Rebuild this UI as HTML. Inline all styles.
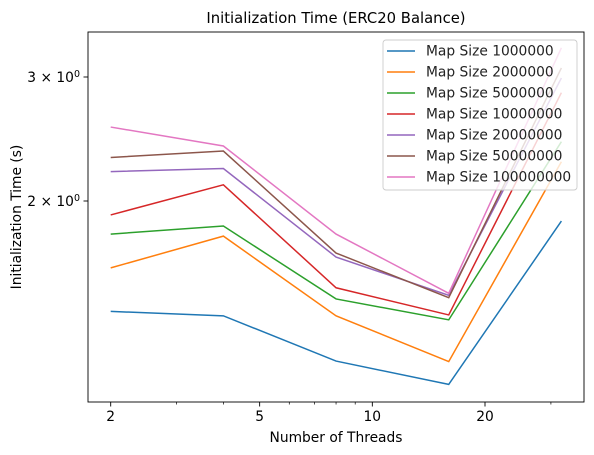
<!DOCTYPE html>
<html><head><meta charset="utf-8"><style>body{margin:0;background:#fff}svg{display:block;font-family:"DejaVu Sans","Liberation Sans",sans-serif}</style></head>
<body>
<svg id="chart" width="594" height="455"></svg>
<script>
const threads=[2,4,8,16,32];
const seriesNames=["Map Size 1000000","Map Size 2000000","Map Size 5000000","Map Size 10000000","Map Size 20000000","Map Size 50000000","Map Size 100000000"];
const s1=[1.394,1.374,1.185,1.098,1.873];
const s2=[1.607,1.783,1.374,1.183,2.274];
const s3=[1.795,1.843,1.452,1.356,2.428];
const s4=[1.911,2.109,1.506,1.378,2.85];
const s5=[2.202,2.224,1.665,1.469,2.99];
const s6=[2.306,2.355,1.687,1.458,3.09];
const s7=[2.547,2.394,1.795,1.479,3.30];
const xTicks=[2,5,10,20];
const yTicks=[2,3];
const series=[s1,s2,s3,s4,s5,s6,s7];
const colors=["#1f77b4","#ff7f0e","#2ca02c","#d62728","#9467bd","#8c564b","#e377c2"];
const L=88,R=584,T=32,B=402;
const xs=v=>110.7+374.3*Math.log10(v/2);
const ys=v=>201-704.2*Math.log10(v/2);
const svg=document.getElementById('chart');const NS="http://www.w3.org/2000/svg";
function mk(t,a,p){const e=document.createElementNS(NS,t);for(const k in a)e.setAttribute(k,a[k]);(p||svg).appendChild(e);return e;}
let t=mk('text',{x:336,y:23,'text-anchor':'middle','font-size':14.8,fill:'#000'});t.textContent="Initialization Time (ERC20 Balance)";

[3,4,6,7,8,9,30].forEach(v=>{const l=mk('line',{x1:xs(v),x2:xs(v),y1:B,y2:B+2.5,stroke:'#000','stroke-width':0.7});
});
xTicks.forEach(v=>{const l=mk('line',{x1:xs(v),x2:xs(v),y1:B,y2:B+4.5,stroke:'#000','stroke-width':0.9});

const tx=mk('text',{x:xs(v),y:B+19,'text-anchor':'middle','font-size':13.8});tx.textContent=v;
});
yTicks.forEach(v=>{const l=mk('line',{x1:L-4.5,x2:L,y1:ys(v),y2:ys(v),stroke:'#000','stroke-width':0.9});

const tx=mk('text',{x:L-8,y:ys(v)+5,'text-anchor':'end','font-size':13.8});
tx.innerHTML=v+' × 10<tspan dy="-5" font-size="9.5">0</tspan>';
});
t=mk('text',{x:336,y:442,'text-anchor':'middle','font-size':13.8});t.textContent="Number of Threads";

t=mk('text',{x:0,y:0,'text-anchor':'middle','font-size':13.8,transform:'translate(21,217) rotate(-90)'});t.textContent="Initialization Time (s)";

series.forEach((s,i)=>{const p=mk('polyline',{points:s.map((v,j)=>xs(threads[j])+','+ys(v)).join(' '),fill:'none',stroke:colors[i],'stroke-width':1.5});
});
const fr=mk('rect',{x:L,y:T,width:R-L,height:B-T,fill:'none',stroke:'#000','stroke-width':0.9});

const lg=mk('g',{});
mk('rect',{x:383,y:40,width:194,height:150,rx:3,fill:'#fff','fill-opacity':0.8,stroke:'#ccc','stroke-width':0.9},lg);
seriesNames.forEach((n,i)=>{const y=51+i*21;
const ln=mk('line',{x1:387,x2:415,y1:y,y2:y,stroke:colors[i],'stroke-width':1.5},lg);

const tx=mk('text',{x:426,y:y+4.5,'font-size':13.8,fill:'#222'},lg);tx.textContent=n;
});
</script>
</body></html>
